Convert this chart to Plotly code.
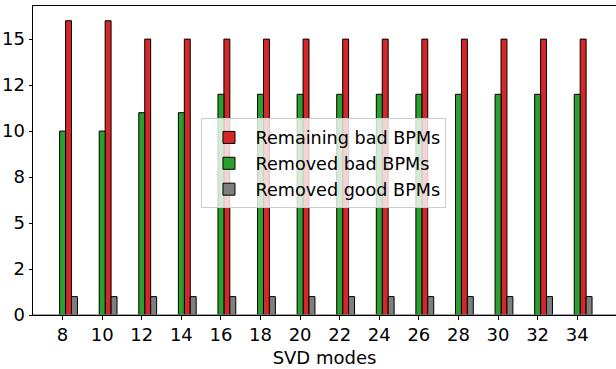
import plotly.graph_objects as go

# ---- data ----
svd_modes = [8, 10, 12, 14, 16, 18, 20, 22, 24, 26, 28, 30, 32, 34]
remaining_bad = [16, 16, 15, 15, 15, 15, 15, 15, 15, 15, 15, 15, 15, 15]
removed_bad = [10, 10, 11, 11, 12, 12, 12, 12, 12, 12, 12, 12, 12, 12]
removed_good = [1, 1, 1, 1, 1, 1, 1, 1, 1, 1, 1, 1, 1, 1]
y_tickvals = [0, 2.5, 5, 7.5, 10, 12.5, 15]
y_ticktext = ["0", "2", "5", "8", "10", "12", "15"]
series_names = ["Remaining bad BPMs", "Removed bad BPMs", "Removed good BPMs"]

RED = "#d62728"
GREEN = "#2ca02c"
GRAY = "#7f7f7f"
FONT = "DejaVu Sans"
W = 0.3

fig = go.Figure()
fig.add_trace(go.Bar(x=svd_modes, y=remaining_bad, name=series_names[0],
                     marker=dict(color=RED, line=dict(color="black", width=1)),
                     width=W, offset=W / 2))
fig.add_trace(go.Bar(x=svd_modes, y=removed_bad, name=series_names[1],
                     marker=dict(color=GREEN, line=dict(color="black", width=1)),
                     width=W, offset=-W / 2))
fig.add_trace(go.Bar(x=svd_modes, y=removed_good, name=series_names[2],
                     marker=dict(color=GRAY, line=dict(color="black", width=1)),
                     width=W, offset=1.5 * W))

fig.update_layout(
    width=616, height=369,
    margin=dict(l=33, r=0, t=6, b=54),
    plot_bgcolor="white", paper_bgcolor="white",
    barmode="overlay",
    font=dict(family=FONT, size=18, color="black"),
    showlegend=True,
    legend=dict(x=0.289, y=0.636, xanchor="left", yanchor="top",
                bgcolor="rgba(255,255,255,0.8)", bordercolor="#cccccc", borderwidth=1,
                font=dict(family=FONT, size=17.6, color="black"),
                tracegroupgap=0, itemwidth=43),
)
fig.update_xaxes(range=[6.505, 35.96], tickvals=svd_modes, ticktext=[str(v) for v in svd_modes],
                 showgrid=False, zeroline=False, showline=True, linecolor="black", linewidth=1,
                 mirror=True, ticks="outside", ticklen=3.5, tickwidth=0.8, tickcolor="black",
                 title=dict(text="SVD modes", standoff=7, font=dict(size=18)),
                 tickfont=dict(size=18))
fig.update_yaxes(range=[0, 16.8], tickvals=y_tickvals, ticktext=y_ticktext,
                 showgrid=False, zeroline=False, showline=True, linecolor="black", linewidth=1,
                 ticks="outside", ticklen=3.5, tickwidth=0.8, tickcolor="black",
                 tickfont=dict(size=18))
fig.add_hline(y=0, line=dict(color="#808080", width=1.5), layer="above")

fig.write_html("out.html")
